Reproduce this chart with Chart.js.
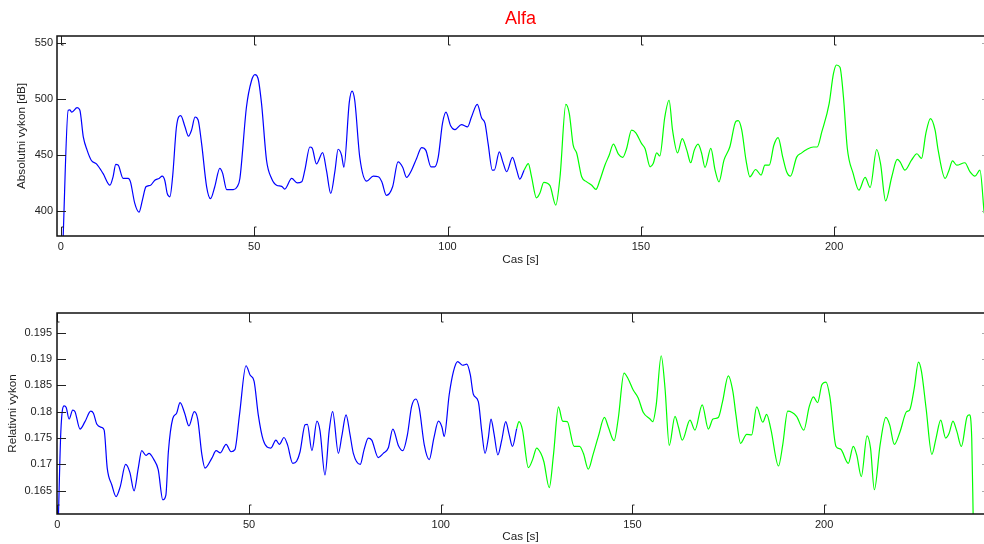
<!DOCTYPE html>
<html>
<head>
<meta charset="utf-8">
<title>Alfa</title>
<script src="https://cdn.jsdelivr.net/npm/chart.js@4/dist/chart.umd.min.js"></script>
<style>
  body { margin: 0; background: #fff; overflow: hidden; }
  canvas { position: absolute; left: 0; }
  #absChart { top: 0; }
  #relChart { top: 280px; }
</style>
</head>
<body>
<canvas id="absChart" width="984" height="280"></canvas>
<canvas id="relChart" width="984" height="264"></canvas>
<script>
// Absolutni vykon [dB] - first part (blue) and second part (green)
const absTimeBlue = [0.5,1.9,2.3,2.85,4.2,4.9,5.8,6.8,7.9,9.2,10.9,12.7,13.5,14.2,14.8,16.1,17.4,18.0,19.1,20.2,21.1,22.0,23.2,24.3,25.4,26.2,26.9,27.5,28.2,28.9,29.9,31.0,32.1,33.0,33.8,34.7,35.5,36.4,37.7,38.7,39.8,41.1,41.8,42.9,44.6,45.6,46.3,48.0,49.3,50.2,51.0,51.9,53.2,54.5,55.8,57.1,57.9,59.7,61.1,62.3,63.1,64.4,65.0,66.1,67.7,68.7,69.8,70.9,71.7,72.6,73.2,74.6,75.3,76.0,77.3,79.1,80.8,82.1,83.0,84.2,85.8,87.2,88.4,89.4,90.7,92.0,93.3,94.4,95.7,96.7,97.6,98.7,99.6,100.8,101.9,103.6,105.2,106.2,107.7,108.8,109.7,110.5,111.6,112.1,113.4,114.3,115.3,116.8,117.9,118.7,119.8];
const absBlue = [368,489.7,490,488,492,490,466,454,445,442,433.5,423,430.5,441.5,441,429,429,426,407,399,410,421.6,423,427.5,429,431,427,415.7,412.7,430.5,475,485,475,466.6,472,483.7,481,460,421.6,411,421.6,438,434,419,419,421.6,429,492.6,516,521.4,518,495.6,445,429,423,422,419.5,429,425,426,436.4,457,456,442,452,436,415.7,436,455,449.7,439,497,506.8,498.6,448,426.6,431,430.5,426,414,421.6,443.8,439,430,436.4,446.8,456.5,454,439.4,439.4,448,478,488,476,472.5,477,475,483.7,495,483,478,460,436.4,436.4,452.7,443.8,435,447.7,436.4,428.4,436.4];
const absTimeGreen = [119.8,120.9,121.7,123.0,123.9,124.9,126.5,128.0,129.1,130.6,131.5,132.5,133.4,134.7,136.0,137.3,138.4,139.4,140.7,141.8,142.9,144.2,145.3,146.3,147.6,148.7,150.2,151.1,152.4,153.2,154.1,154.9,156.2,157.3,158.2,159.5,160.7,161.9,162.9,163.8,164.8,165.7,166.6,168.1,169.2,170.2,171.5,173.0,174.6,175.2,176.1,177.2,178.2,179.7,181.1,182.1,183.2,184.4,185.5,186.7,187.7,188.7,190.3,191.6,192.9,194.6,195.6,196.8,198.7,199.8,200.6,201.5,202.4,203.4,204.9,206.4,208.0,209.3,211.0,212.0,213.3,214.9,216.3,217.0,218.3,220.0,221.4,222.6,223.7,224.9,226.1,226.9,228.7,229.7,230.6,231.7,233.8,235.1,236.4,237.7,238.8];
const absGreen = [436.4,442.3,431,411.7,416,425.6,422.6,405.3,430.5,495,486.8,458.6,451.7,430.5,426,423,419.3,427.4,440.8,449.7,459.5,450.6,447.7,455.5,472,469.6,460,455.5,439.4,442.3,451.8,449,483.7,498.6,472,451.8,464.5,454,443,454,459.5,451.7,438.8,455.7,436.4,426,445.3,457,480,480.5,472,445.3,430.5,437,432,440.8,440.8,458.6,465.4,448,435,431,448,451.8,454.8,457,457,470.4,495.6,522,530,528,501.5,455.7,433.5,418.6,430,421,454.8,442,409,430.5,446,444,436.4,445.3,451,446.8,469,482.3,472,454,429,436.4,444.7,440.8,443,435,431,436.4,398];

// Relativni vykon - first part (blue) and second part (green)
const relTimeBlue = [0.2,0.9,1.75,2.3,3.05,4.0,4.6,5.9,7.2,8.7,9.4,10.3,11.6,12.2,13.0,14.2,15.3,16.4,17.8,18.9,20.0,21.1,22.0,23.1,23.9,25.1,26.3,27.5,28.3,28.95,30.1,31.1,32.0,33.2,34.3,35.7,36.6,37.7,38.5,40.3,41.4,42.5,44.0,45.3,46.3,47.5,49.2,50.3,51.3,52.4,53.7,55.7,57.0,57.9,59.1,60.0,61.4,62.4,63.3,64.6,65.2,66.4,67.7,68.5,69.8,70.9,71.8,73.3,74.2,75.3,76.3,77.2,79.0,80.0,81.1,82.0,83.7,85.0,86.3,87.5,89.0,90.1,91.3,92.4,93.5,94.4,95.7,97.0,98.2,99.4,100.3,100.9,102.2,103.3,104.4,105.7,106.8,107.7,108.5,109.8,110.7,111.55,112.4,113.1,113.9,114.9,115.9,116.95,117.8,118.7,119.8];
const relBlue = [0.158,0.1762,0.1811,0.1808,0.1786,0.1803,0.18,0.1767,0.1781,0.1801,0.1797,0.1776,0.177,0.1765,0.1693,0.1661,0.1639,0.1658,0.17,0.1685,0.165,0.1693,0.1726,0.1717,0.1721,0.171,0.169,0.1633,0.1642,0.1724,0.1787,0.1797,0.1817,0.1797,0.1773,0.18,0.1786,0.1718,0.1693,0.1712,0.1726,0.1722,0.1738,0.1724,0.1728,0.1794,0.1887,0.1869,0.1858,0.1794,0.1746,0.1731,0.1746,0.1738,0.1751,0.1738,0.1702,0.1706,0.1724,0.1775,0.1776,0.1726,0.1782,0.1764,0.168,0.1764,0.18,0.1721,0.1754,0.1794,0.1758,0.1721,0.17,0.1728,0.175,0.1746,0.1713,0.1721,0.1731,0.1767,0.1735,0.1726,0.1756,0.181,0.1824,0.1806,0.1737,0.1709,0.175,0.1782,0.1771,0.1753,0.1832,0.1876,0.1895,0.1888,0.189,0.187,0.1833,0.1819,0.1762,0.1721,0.175,0.1786,0.1758,0.1718,0.1746,0.1781,0.1758,0.1734,0.1768];
const relTimeGreen = [119.8,120.4,121.3,122.85,124.0,125.0,126.1,126.9,128.3,129.4,130.7,131.8,133.0,134.8,136.2,137.2,138.5,139.7,141.1,142.7,143.7,145.2,146.3,147.8,148.9,150.2,151.5,152.8,154.6,155.3,156.2,157.5,158.5,159.6,161.1,162.0,163.0,165.0,166.3,168.2,169.8,171.0,172.4,173.5,175.0,176.2,177.0,178.2,179.8,181.1,182.4,184.0,185.0,186.1,188.1,189.2,190.5,192.8,194.7,196.1,197.2,198.3,199.4,200.5,201.5,203.1,204.3,206.3,207.6,208.5,209.7,211.2,212.1,213.1,214.6,216.1,217.1,218.3,219.8,221.5,222.3,223.5,224.6,225.4,226.6,228.1,229.2,230.4,231.7,232.6,233.6,234.6,235.8,237.3,237.9,238.5,238.9];
const relGreen = [0.1768,0.1781,0.1766,0.1694,0.171,0.1731,0.1721,0.1705,0.1656,0.1718,0.1809,0.1782,0.1781,0.1734,0.1734,0.1721,0.1691,0.1718,0.1753,0.1789,0.1771,0.1745,0.1787,0.1873,0.1862,0.1841,0.1826,0.1799,0.1786,0.1781,0.1813,0.1906,0.1844,0.1736,0.1791,0.1771,0.1746,0.1784,0.1765,0.1813,0.1767,0.1786,0.1789,0.1819,0.1868,0.1838,0.1794,0.174,0.1757,0.1756,0.1809,0.178,0.1795,0.1767,0.1697,0.1737,0.1801,0.1791,0.1765,0.1809,0.1828,0.1817,0.1851,0.1856,0.1828,0.1734,0.1729,0.1702,0.1734,0.1718,0.1677,0.1754,0.1731,0.1652,0.1737,0.1789,0.1775,0.1738,0.1762,0.18,0.1803,0.1844,0.1894,0.1876,0.1806,0.1719,0.175,0.1784,0.175,0.1759,0.1782,0.1763,0.1734,0.1791,0.1794,0.175,0.159];

// tick labels
const timeTicks = [0, 50, 100, 150, 200];
const absTicks = [400, 450, 500, 550];
const relTicks = [0.165, 0.17, 0.175, 0.18, 0.185, 0.19, 0.195];

const toPoints = (xs, ys) => xs.map((x, i) => ({x: x, y: ys[i]}));
const FONT = "'Liberation Sans', Arial, Helvetica, sans-serif";

// MATLAB-like box with inward ticks
const framePlugin = {
  id: 'frame',
  afterDatasetsDraw(chart) {
    const {ctx, chartArea: a, scales: {x, y}} = chart;
    ctx.save();
    ctx.lineWidth = 1;
    ctx.strokeStyle = '#222';
    x.ticks.forEach(t => {
      const px = Math.round(x.getPixelForValue(t.value)) + 0.5;
      ctx.beginPath();
      ctx.moveTo(px, a.bottom); ctx.lineTo(px, a.bottom - 9); ctx.lineTo(px + 2, a.bottom - 9);
      ctx.moveTo(px, a.top); ctx.lineTo(px, a.top + 9); ctx.lineTo(px + 2, a.top + 9);
      ctx.stroke();
    });
    y.ticks.forEach(t => {
      const py = Math.round(y.getPixelForValue(t.value)) + 0.5;
      ctx.strokeStyle = '#222';
      ctx.beginPath();
      ctx.moveTo(a.left, py); ctx.lineTo(a.left + 9, py);
      ctx.stroke();
      ctx.strokeStyle = '#aaa';
      ctx.beginPath();
      ctx.moveTo(a.right - 2, py); ctx.lineTo(a.right, py);
      ctx.stroke();
    });
    ctx.strokeStyle = '#111';
    ctx.lineWidth = 1.5;
    ctx.beginPath();
    ctx.moveTo(a.right, a.top); ctx.lineTo(a.left, a.top);
    ctx.lineTo(a.left, a.bottom); ctx.lineTo(a.right, a.bottom);
    ctx.stroke();
    ctx.restore();
  }
};

function makeChart(id, cfg) {
  return new Chart(document.getElementById(id), {
    type: 'line',
    data: {
      datasets: [
        {data: toPoints(cfg.xb, cfg.yb), borderColor: '#0000ff', borderWidth: 1.2, pointRadius: 0, cubicInterpolationMode: 'monotone', fill: false},
        {data: toPoints(cfg.xg, cfg.yg), borderColor: '#00ff00', borderWidth: 1.2, pointRadius: 0, cubicInterpolationMode: 'monotone', fill: false}
      ]
    },
    options: {
      responsive: false,
      animation: false,
      devicePixelRatio: 1,
      layout: {padding: {top: cfg.padTop, right: 0, bottom: 0, left: 0}},
      plugins: {
        legend: {display: false},
        tooltip: {enabled: false},
        title: cfg.title ? {display: true, text: cfg.title, color: '#ff0000', fullSize: false,
          font: {family: FONT, size: 18, weight: 'normal'}, padding: {top: 8, bottom: 6.4}} : {display: false}
      },
      scales: {
        x: {
          type: 'linear', min: cfg.xmin, max: cfg.xmax,
          afterFit: s => { s.height = cfg.xh; },
          afterBuildTicks: s => { s.ticks = timeTicks.map(v => ({value: v})); },
          grid: {display: false, drawTicks: false},
          border: {display: false},
          ticks: {padding: 4, color: '#222', font: {family: FONT, size: 11}, maxRotation: 0},
          title: {display: true, text: 'Cas [s]', color: '#222', font: {family: FONT, size: 11.7}, padding: {top: 0, bottom: cfg.xtPad}}
        },
        y: {
          min: cfg.ymin, max: cfg.ymax,
          afterFit: s => { s.width = 57; },
          afterBuildTicks: s => { s.ticks = cfg.yticks.map(v => ({value: v})); },
          grid: {display: false, drawTicks: false},
          border: {display: false},
          ticks: {padding: cfg.ytickPad, color: '#222', font: {family: FONT, size: 11}, callback: v => String(v)},
          title: {display: true, text: cfg.ylabel, color: '#222', font: {family: FONT, size: 11.7}, padding: {top: cfg.ytPad, bottom: 0}}
        }
      }
    },
    plugins: [framePlugin]
  });
}

makeChart('absChart', {
  xb: absTimeBlue, yb: absBlue, xg: absTimeGreen, yg: absGreen,
  title: 'Alfa', padTop: 0,
  xmin: -1.0, xmax: 238.75, xh: 44, xtPad: 12.9,
  ymin: 377.8, ymax: 555.8, yticks: absTicks, ytickPad: 4,
  ylabel: 'Absolutni vykon [dB]', ytPad: 15
});

makeChart('relChart', {
  xb: relTimeBlue, yb: relBlue, xg: relTimeGreen, yg: relGreen,
  title: null, padTop: 33,
  xmin: -0.1, xmax: 241.7, xh: 30, xtPad: 0,
  ymin: 0.1606, ymax: 0.1987, yticks: relTicks, ytickPad: 5,
  ylabel: 'Relativni vykon', ytPad: 5.5
});
</script>
</body>
</html>
